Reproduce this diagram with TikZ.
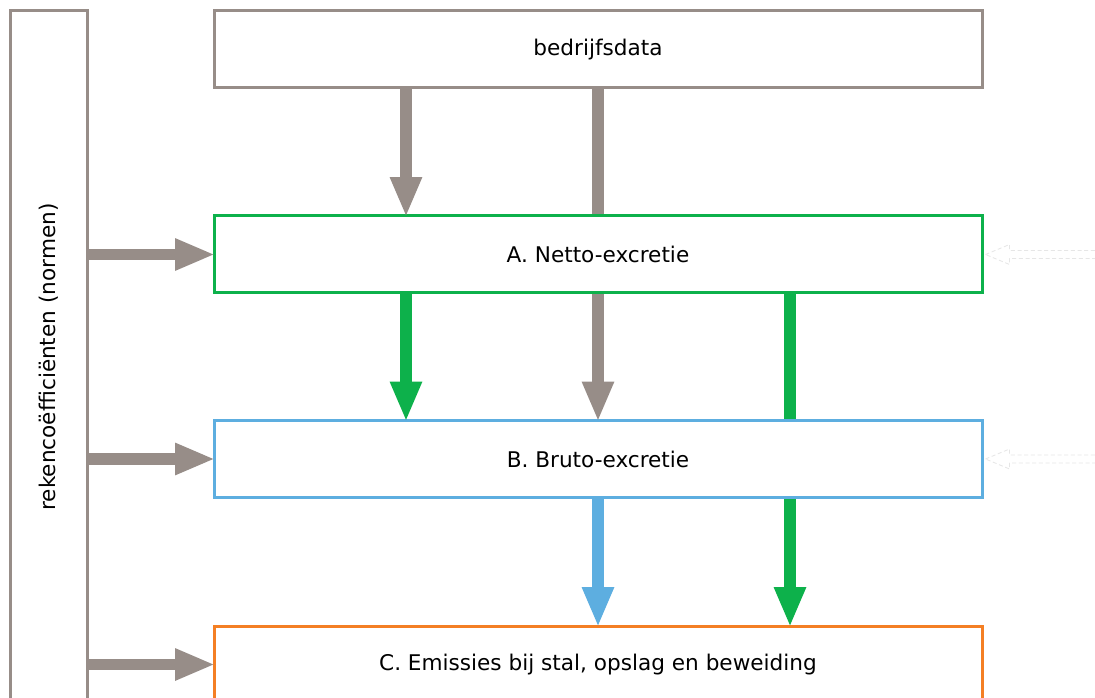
\documentclass[tikz,border=0pt]{standalone}
\usepackage{fontspec}
\setmainfont{DejaVu Sans}
\usetikzlibrary{arrows.meta,calc}
\definecolor{stone}{HTML}{978D88}
\definecolor{leaf}{HTML}{0DB14B}
\definecolor{sky}{HTML}{5DAEE0}
\definecolor{amber}{HTML}{F47F24}
\definecolor{ghost}{HTML}{E6E6E6}
\tikzset{
  label font/.style={font=\fontsize{16.2pt}{19pt}\selectfont},
  box/.style={draw, line width=2.25pt, fill=white, minimum width=576pt,
    minimum height=57.75pt, inner sep=0pt, label font},
  flow/.style={line width=8.5pt, shorten >=-2pt, -{Triangle[length=30pt,width=22pt]}},
  feed/.style={line width=8.5pt},
  hollow/.style={fill=white, draw=ghost, line width=0.6pt, densely dashed},
}
\begin{document}
\begin{tikzpicture}[x=0.75pt, y=-0.75pt]
\useasboundingbox (0,0) rectangle (1095,698);
\fill[white] (0,0) rectangle (1095,698);

% vertical column with the coefficients
\node[draw=stone, line width=2.25pt, minimum width=57.75pt, minimum height=519pt,
  inner sep=0pt, label font]
  (coef) at (48.5,357) {\rotatebox{90}{rekencoëfficiënten (normen)}};

% the four stacked boxes
\node[box, draw=stone] (data) at (598,49.5) {bedrijfsdata};
\node[box, draw=leaf]  (A) at (598,254.5) {A. Netto-excretie};
\node[box, draw=sky]   (B) at (598,459) {B. Bruto-excretie};
\node[box, draw=amber] (C) at (598,664.5) {C. Emissies bij stal, opslag en beweiding};

% column positions of the vertical connectors
\coordinate (x1) at (406,0);
\coordinate (x2) at (598,0);
\coordinate (x3) at (790,0);

% from bedrijfsdata
\draw[flow, stone] (data.south -| x1) -- (A.north -| x1);
\draw[feed, stone] (data.south -| x2) -- (A.north -| x2);

% from A to B
\draw[flow, leaf]  (A.south -| x1) -- (B.north -| x1);
\draw[flow, stone] (A.south -| x2) -- (B.north -| x2);
\draw[feed, leaf]  (A.south -| x3) -- (B.north -| x3);

% from B to C
\draw[flow, sky]  (B.south -| x2) -- (C.north -| x2);
\draw[flow, leaf] (B.south -| x3) -- (C.north -| x3);

% coefficients into each box
\draw[flow, stone] (coef.east |- A.west) -- (A.west);
\draw[flow, stone] (coef.east |- B.west) -- (B.west);
\draw[flow, stone] (coef.east |- C.west) -- (C.west);

% faint open arrows on the right edge
\foreach \p in {A,B}{
  \draw[hollow] ($(\p.east)+(2,0)$) -- ++(24,-10) -- ++(0,6) -- ++(100,0)
    -- ++(0,8) -- ++(-100,0) -- ++(0,6) -- cycle;
}
\end{tikzpicture}
\end{document}
